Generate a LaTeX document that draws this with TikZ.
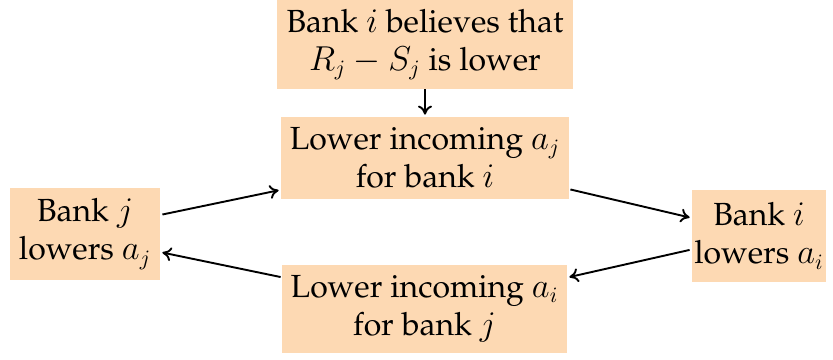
\documentclass[tikz,border=0pt]{standalone}
\usepackage[T1]{fontenc}
\usepackage{palatino}
\usetikzlibrary{arrows.meta,calc}
\definecolor{peach}{HTML}{FDD9B3}
\tikzset{
  box/.style={fill=peach, inner sep=0pt, align=center, font=\fontsize{16}{19}\selectfont},
  conn/.style={-{To[length=4.5pt,width=7pt]}, line width=0.95pt}
}
\begin{document}
\begin{tikzpicture}[x=0.5pt,y=-0.5pt]
\useasboundingbox (0,0) rectangle (833,359);
\node[box, minimum width=148pt, minimum height=44.5pt] (top) at (425,44.5) {Bank $i$ believes that\\ $R_j-S_j$ is lower};
\node[box, minimum width=144pt, minimum height=41pt] (mid) at (425,158) {Lower incoming $a_j$\\ for bank $i$};
\node[box, minimum width=142.5pt, minimum height=44pt] (bot) at (424.5,309) {Lower incoming $a_i$\\ for bank $j$};
\node[box, minimum width=75pt, minimum height=46pt] (lft) at (85,234) {Bank $j$\\ lowers $a_j$};
\node[box, minimum width=67pt, minimum height=46pt] (rgt) at (759,236) {Bank $i$\\ lowers $a_i$};
\draw[conn] (top.south) -- ($(mid.north)+(0,-2)$);
\draw[conn] ($(lft.north east)!0.29!(lft.south east)+(2,0)$) -- ($(mid.north west)!0.89!(mid.south west)+(-2,0)$);
\draw[conn] ($(mid.north east)!0.88!(mid.south east)+(1,0)$) -- ($(rgt.north west)!0.3!(rgt.south west)+(-2,0)$);
\draw[conn] ($(rgt.north west)!0.65!(rgt.south west)+(-2,0)$) -- ($(bot.north east)!0.14!(bot.south east)+(2,0)$);
\draw[conn] ($(bot.north west)!0.14!(bot.south west)+(-1,0)$) -- ($(lft.north east)!0.7!(lft.south east)+(2,0)$);
\end{tikzpicture}
\end{document}
